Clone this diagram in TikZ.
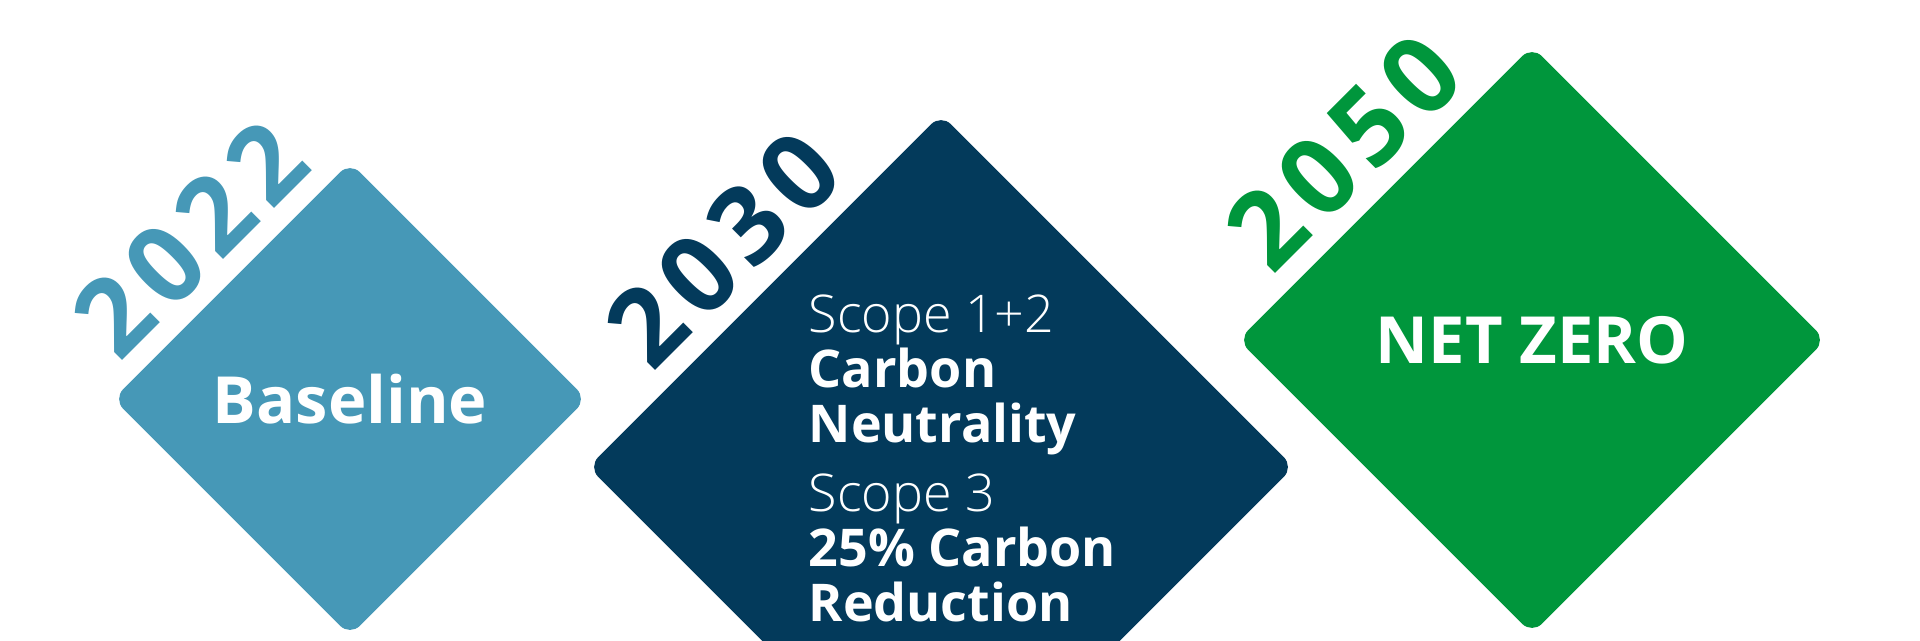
\documentclass[tikz,border=0pt]{standalone}
\usepackage{fontspec}
\setmainfont{Open Sans}
\IfFontExistsTF{Open Sans Light}{\newfontfamily\scopefont{Open Sans Light}}{\newfontfamily\scopefont{Open Sans}}
\usetikzlibrary{shapes.geometric,calc}
\definecolor{baseblue}{HTML}{4698B7}
\definecolor{goalnavy}{HTML}{033A5B}
\definecolor{zerogreen}{HTML}{00963C}
% digits of a year, a little apart
\def\yeardigits#1{\ifx#1\relax\else#1\kern3pt\expandafter\yeardigits\fi}
\tikzset{
  tile/.style={diamond, aspect=1, inner sep=0pt, rounded corners=4pt, minimum size=#1cm},
  year/.style={rotate=45, anchor=base, inner sep=0pt, font=\bfseries\fontsize{30.5pt}{30pt}\selectfont},
  tiletext/.style={text=white, font=\bfseries\fontsize{18.5pt}{20pt}\selectfont}
}
\begin{document}
\begin{tikzpicture}
    \useasboundingbox (0,0) rectangle (19.2,6.4);
    % the three tiles, year on the upper left edge
    \foreach \name/\x/\y/\s/\col/\yr in {base/3.50/2.41/4.74/baseblue/2022,
        goal/9.41/1.73/7.06/goalnavy/2030, zero/15.32/3.00/5.88/zerogreen/2050}{
      \node[tile=\s, fill=\col] (\name) at (\x,\y) {};
      \node[year, text=\col] (y\yr) at ($(\name.west)!0.5!(\name.north)+(-0.14,0.14)$)
        {\kern3pt\expandafter\yeardigits\yr\relax};
    }
    \node[tiletext] (baseline) at (base) {Baseline};
    \node[tiletext] (netzero) at (zero) {NET ZERO};
    \node[text=white, anchor=north west, inner sep=0pt, align=left,
      font=\fontsize{14.8pt}{15.6pt}\selectfont] (scopes) at (8.08,3.46)
      {{\scopefont Scope 1+2}\\ \textbf{Carbon}\\ \textbf{Neutrality}\\[4.2pt]
       {\scopefont Scope 3}\\ \textbf{25\% Carbon}\\ \textbf{Reduction}};
\end{tikzpicture}
\end{document}
